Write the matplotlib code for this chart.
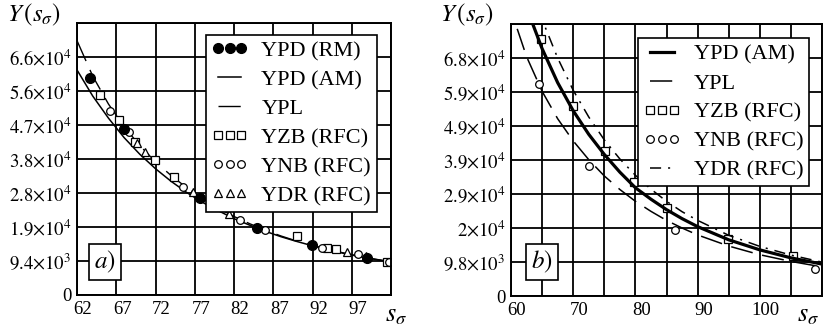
import matplotlib
matplotlib.use("Agg")
import matplotlib.pyplot as plt
import matplotlib.transforms as mtransforms

plt.rcParams["font.family"] = ["Liberation Serif", "DejaVu Serif"]
plt.rcParams["mathtext.fontset"] = "stix"
plt.rcParams["lines.scale_dashes"] = False

# ---- panel a) data ----
s_a = [62, 64, 66, 68, 70, 72, 74, 76, 78, 80, 82, 84, 86, 88, 90, 92, 94, 96, 98, 100, 102]
ypd_am_a = [62200, 55000, 48900, 43500, 38900, 34900, 31400, 28300, 25600, 23300, 21100,
            19300, 17600, 16100, 14800, 13600, 12500, 11500, 10600, 9830, 9100]
ypl_a = [70300, 60500, 52800, 46500, 41300, 36800, 33000, 29600, 26600, 24000, 21700,
         19700, 17900, 16300, 14900, 13700, 12600, 11600, 10700, 9900, 9200]
rm_s_a = [63.7, 68.0, 77.7, 84.9, 91.9, 98.9]
rm_y_a = [60000, 45800, 26700, 18600, 13800, 10100]
zb_s_a = [64.9, 67.3, 69.4, 71.9, 74.3, 90.0, 93.8, 95.0, 101.5]
zb_y_a = [55300, 48300, 42300, 37300, 32700, 16300, 12900, 12600, 9200]
nb_s_a = [66.2, 68.6, 75.5, 82.8, 85.9, 93.2, 97.8, 101.8]
nb_y_a = [51000, 45000, 29900, 20700, 17900, 13000, 11200, 9000]
dr_s_a = [69.6, 70.7, 76.8, 81.3, 96.4, 98.8]
dr_y_a = [41900, 39600, 28400, 22300, 12000, 10800]

xticks_a = [62, 67, 72, 77, 82, 87, 92, 97, 102]
xlabels_a = ["62", "67", "72", "77", "82", "87", "92", "97", ""]
yticks_a = [0, 9400, 18800, 28200, 37600, 47000, 56400, 65800, 75200]
ylabels_a = ["0", r"$9.4{\times}10^{3}$", r"$1.9{\times}10^{4}$", r"$2.8{\times}10^{4}$",
             r"$3.8{\times}10^{4}$", r"$4.7{\times}10^{4}$", r"$5.6{\times}10^{4}$",
             r"$6.6{\times}10^{4}$", ""]

# ---- panel b) data ----
s_b = [62.5, 65, 67.5, 70, 72.5, 75, 77.5, 80, 82.5, 85, 87.5, 90, 95, 100, 105, 110]
ypd_am_b = [83100, 71300, 61500, 53400, 46600, 40800, 35700, 31200, 27900, 24900,
            22300, 20000, 16200, 13300, 11000, 9200]
s_pl_b = [61, 62.5, 65, 67.5, 70, 72.5, 75, 77.5, 80, 82.5, 85, 87.5, 90, 95, 100, 105, 110]
ypl_b = [77000, 69000, 59000, 51100, 44700, 39300, 34600, 30700, 27300, 24400, 21800,
         19600, 17600, 14400, 11900, 9970, 8400]
s_dr_b = [64.5, 65, 67.5, 70, 72.5, 75, 77.5, 80, 82.5, 85, 87.5, 90, 95, 100, 105, 110]
ydr_b = [82200, 79700, 68600, 59300, 51600, 45000, 39500, 34800, 30800, 27300, 24300,
         21800, 17500, 14300, 11800, 9770]
zb_s_b = [64.9, 70.0, 75.1, 79.7, 85.0, 94.9, 105.3]
zb_y_b = [74100, 54900, 41700, 32800, 25400, 16500, 11400]
nb_s_b = [64.5, 72.6, 86.4, 108.8]
nb_y_b = [61100, 37600, 18900, 7900]

xticks_b = [60, 65, 70, 75, 80, 85, 90, 95, 100, 105, 110]
xlabels_b = ["60", "", "70", "", "80", "", "90", "", "100", "", ""]
yticks_b = [0, 9800, 19600, 29400, 39200, 49000, 58800, 68600, 78400]
ylabels_b = ["0", r"$9.8{\times}10^{3}$", r"$2{\times}10^{4}$", r"$2.9{\times}10^{4}$",
             r"$3.9{\times}10^{4}$", r"$4.9{\times}10^{4}$", r"$5.9{\times}10^{4}$",
             r"$6.8{\times}10^{4}$", ""]

fig = plt.figure(figsize=(8.23, 3.31), dpi=100)
ax1 = fig.add_axes([0.0936, 0.1088, 0.3815, 0.8218])
ax2 = fig.add_axes([0.6209, 0.1057, 0.3779, 0.8218])

pl_dash = (0, (16, 7))
dr_dash = (0, (8, 5, 1.5, 5))
mk = dict(linestyle="none", markerfacecolor="white", markeredgecolor="black",
          markeredgewidth=0.9, markersize=5.5)

# panel a
ax1.plot(rm_s_a, rm_y_a, "o", color="black", markersize=7, label="YPD (RM)", zorder=5)
ax1.plot(s_a, ypd_am_a, color="black", lw=1.1, label="YPD (AM)")
ax1.plot(s_a, ypl_a, color="black", lw=1.0, linestyle=pl_dash, label="YPL")
ax1.plot(zb_s_a, zb_y_a, marker="s", label="YZB (RFC)", **mk)
ax1.plot(nb_s_a, nb_y_a, marker="o", label="YNB (RFC)", **mk)
ax1.plot(dr_s_a, dr_y_a, marker="^", label="YDR (RFC)", **mk)

# panel b
ax2.plot(s_b, ypd_am_b, color="black", lw=2.3, label="YPD (AM)", zorder=4)
ax2.plot(s_pl_b, ypl_b, color="black", lw=1.1, linestyle=pl_dash, label="YPL")
ax2.plot(zb_s_b, zb_y_b, marker="s", label="YZB (RFC)", **mk)
ax2.plot(nb_s_b, nb_y_b, marker="o", label="YNB (RFC)", **mk)
ax2.plot(s_dr_b, ydr_b, color="black", lw=1.1, linestyle=dr_dash, label="YDR (RFC)")

for ax, xt, xl, yt, yl in [(ax1, xticks_a, xlabels_a, yticks_a, ylabels_a),
                           (ax2, xticks_b, xlabels_b, yticks_b, ylabels_b)]:
    ax.set_xlim(xt[0], xt[-1])
    ax.set_ylim(yt[0], yt[-1])
    ax.set_xticks(xt)
    ax.set_xticklabels(xl)
    ax.set_yticks(yt)
    ax.set_yticklabels(yl)
    ax.tick_params(length=0, labelsize=13.5, pad=4)
    ax.grid(True, color="black", lw=1.3)
    ax.set_axisbelow(True)
    for sp in ax.spines.values():
        sp.set_linewidth(1.4)
    offset = mtransforms.ScaledTranslation(6 / 100, 0, fig.dpi_scale_trans)
    for lab in ax.get_xticklabels():
        lab.set_transform(lab.get_transform() + offset)

leg_kw = dict(loc="upper left", mode="expand", fontsize=16, numpoints=3, frameon=True,
              fancybox=False, framealpha=1, edgecolor="black", borderpad=0.25,
              borderaxespad=0, handlelength=1.65, handletextpad=0.6, labelspacing=0.38)
lg1 = ax1.legend(bbox_to_anchor=(0.41, 0.0, 0.546, 0.956), **leg_kw)
lg2 = ax2.legend(bbox_to_anchor=(0.409, 0.0, 0.55, 0.947), **leg_kw)
for lg in (lg1, lg2):
    lg.get_frame().set_linewidth(1.2)

box = dict(boxstyle="square,pad=0.2", facecolor="white", edgecolor="black", lw=1.2)
ax1.text(0.089, 0.121, r"$a)$", transform=ax1.transAxes, fontsize=18,
         ha="center", va="center", bbox=box, zorder=6)
ax2.text(0.099, 0.125, r"$b)$", transform=ax2.transAxes, fontsize=18,
         ha="center", va="center", bbox=box, zorder=6)

fig.text(7 / 823, 1 - 2 / 331, r"$Y\,(s_{\sigma})$", fontsize=18, ha="left", va="top")
fig.text(440 / 823, 1 - 2 / 331, r"$Y\,(s_{\sigma})$", fontsize=18, ha="left", va="top")
fig.text(396 / 823, 1 - 316 / 331, r"$s_{\sigma}$", fontsize=19, ha="center", va="center")
fig.text(808 / 823, 1 - 316 / 331, r"$s_{\sigma}$", fontsize=19, ha="center", va="center")

fig.savefig("out.png", dpi=100)
